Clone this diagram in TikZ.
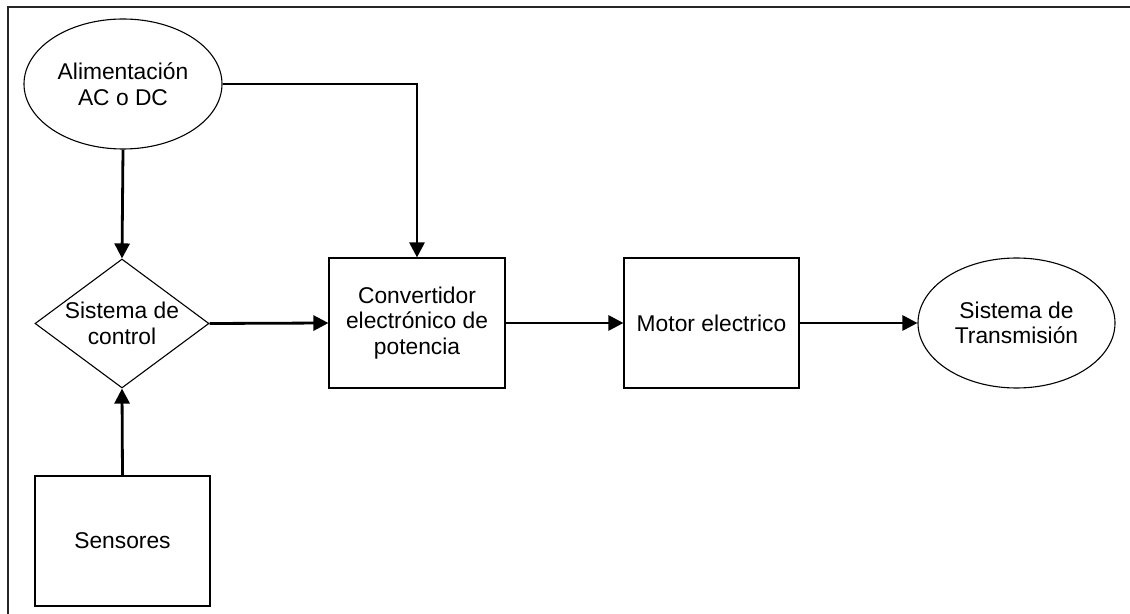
\documentclass[tikz,border=0pt]{standalone}
\usepackage{fontspec}
\setmainfont{Liberation Sans}
\usetikzlibrary{shapes.geometric,arrows.meta}
\begin{document}
\begin{tikzpicture}[x=0.5pt,y=-0.5pt,
  every node/.style={font=\fontsize{11.4pt}{12.8pt}\selectfont, align=center, inner sep=0pt, draw, line width=0.55pt},
  oval/.style={ellipse},
  boxnode/.style={rectangle},
  decision/.style={diamond, aspect=1.35},
  conn/.style={line width=1.4pt, -{Triangle[length=7.5pt,width=7.5pt]}},
  frame/.style={line width=1pt, draw=black!85}]
\useasboundingbox (0,0) rectangle (1130,614);
\draw[frame] (8,614) -- (8,7.5) -- (1130,7.5);
\node[oval, minimum width=99pt, minimum height=65pt] (alim) at (123,84) {Alimentación\\AC o DC};
\node[decision, minimum width=87pt, minimum height=64.5pt] (ctrl) at (122,323.5) {Sistema de\\control};
\node[boxnode, minimum width=88pt, minimum height=65pt] (conv) at (417,323) {Convertidor\\electrónico de\\potencia};
\node[boxnode, minimum width=87.5pt, minimum height=65pt] (motor) at (711.5,323) {Motor electrico};
\node[oval, minimum width=98.5pt, minimum height=65pt] (trans) at (1016.5,323) {Sistema de\\Transmisión};
\node[boxnode, minimum width=87.5pt, minimum height=65pt] (sens) at (122.5,541) {Sensores};
\coordinate (corner) at (conv.north |- alim.east);
\draw[conn] (alim.east) -- (corner) -- (conv.north);
\draw[conn] (alim.south) -- (ctrl.north);
\draw[conn] (ctrl.east) -- (conv.west);
\draw[conn] (sens.north) -- (ctrl.south);
\draw[conn] (conv.east) -- (motor.west);
\draw[conn] (motor.east) -- (trans.west);
\end{tikzpicture}
\end{document}
